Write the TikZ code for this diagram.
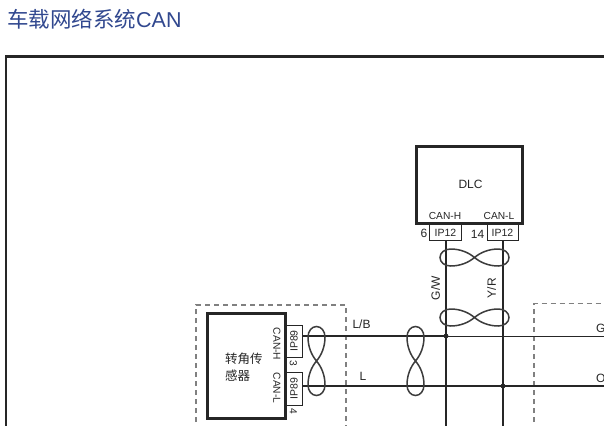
\documentclass[tikz,border=0pt]{standalone}
\usepackage{fontspec}
\setmainfont{Liberation Sans}
\newfontfamily\cjkf{Noto Sans CJK SC}
\definecolor{ink}{HTML}{262626}
\definecolor{titleblue}{HTML}{31488F}
\definecolor{dashgray}{HTML}{808080}
\tikzset{
  lbl/.style={font=\fontsize{12}{14}\selectfont,text=ink,inner sep=0pt},
  small/.style={font=\fontsize{10.2}{11}\selectfont,text=ink,inner sep=0pt},
  heavybox/.style={draw=ink,line width=3pt,fill=white,inner sep=0pt},
  conn/.style={draw=ink,line width=0.9pt,fill=white,inner sep=0pt,font=\fontsize{10.5}{11}\selectfont,text=ink},
  wire/.style={draw=ink,line width=1.7pt},
  thinwire/.style={draw=ink,line width=1pt},
  dashedbox/.style={draw=dashgray,line width=1.1pt,dash pattern=on 5pt off 4pt},
  pics/twist/.style={code={
    \draw[draw=ink!90,line width=1.5pt]
      (0,0) .. controls (-6,-5) and (-14,-8.5) .. (-24,-8.5)
      .. controls (-30,-8.5) and (-34.5,-4.7) .. (-34.5,0)
      .. controls (-34.5,4.7) and (-30,8.5) .. (-24,8.5)
      .. controls (-14,8.5) and (-6,5) .. (0,0)
      .. controls (6,-5) and (14,-8.5) .. (24,-8.5)
      .. controls (30,-8.5) and (34.5,-4.7) .. (34.5,0)
      .. controls (34.5,4.7) and (30,8.5) .. (24,8.5)
      .. controls (14,8.5) and (6,5) .. (0,0) -- cycle;
  }}
}
\begin{document}
\begin{tikzpicture}[x=1pt,y=-1pt]
\useasboundingbox (0,0) rectangle (604,425);
\fill[white] (0,0) rectangle (604,425);
\clip (0,0) rectangle (604,425);
% title
\node[anchor=west,inner sep=0pt,text=titleblue] (title) at (7,19)
  {\fontsize{21.5}{24}\selectfont{\cjkf 车载网络系统}CAN};
% frame
\draw[draw=ink,line width=2.2pt] (6,440) -- (6,56.5) -- (620,56.5);
% dashed groups
\draw[dashedbox] (196,440) -- (196,305) -- (346,305) -- (346,440);
\draw[dashedbox] (534,440) -- (534,303.5) -- (620,303.5);
% wire end points
\coordinate (bL) at (446,440);
\coordinate (bR) at (503,440);
\coordinate (e1) at (620,336);
\coordinate (e2) at (620,386);
\coordinate (j1) at (446,336);
\coordinate (j2) at (503,386);
% DLC
\node[heavybox,minimum width=106pt,minimum height=77pt] (dlc) at (469,184.5) {};
\node[lbl] (dlct) at (470.5,184) {DLC};
\node[small] (canh1) at (445,216) {CAN-H};
\node[small] (canl1) at (499,216) {CAN-L};
\node[conn,minimum width=32pt,minimum height=15.5pt] (ip1) at (445.5,232.5) {IP12};
\node[conn,minimum width=31pt,minimum height=15.5pt] (ip2) at (502.5,232.5) {IP12};
\node[lbl] (n6) at (424,233) {6};
\node[lbl] (n14) at (477.5,234) {14};
% sensor
\node[heavybox,minimum width=78pt,minimum height=105pt] (sens) at (246,365.5) {};
\node[lbl,align=left,anchor=west,font=\fontsize{12.5}{17}\selectfont\cjkf] (senst) at (225,367) {转角传\\感器};
\node[conn,minimum width=16pt,minimum height=32pt] (ip3) at (294,341) {};
\node[conn,minimum width=16pt,minimum height=33pt] (ip4) at (294,388.5) {};
\node[small,rotate=90,font=\fontsize{10.5}{11}\selectfont] (ip3t) at (294,341) {IP89};
\node[small,rotate=90,font=\fontsize{10.5}{11}\selectfont] (ip4t) at (294,388.5) {IP89};
\node[small,rotate=-90] (canh2) at (277,344) {CAN-H};
\node[small,rotate=-90] (canl2) at (277,388) {CAN-L};
\node[small,rotate=-90] (n3) at (293.5,363) {3};
\node[small,rotate=-90] (n4) at (293.5,411.5) {4};
% wires
\draw[wire] (ip1.south -| bL) -- (bL);
\draw[wire] (ip2.south -| bR) -- (bR);
\draw[wire] (ip3.east |- j1) -- (j1);
\draw[thinwire] (j1) -- (e1);
\draw[wire] (ip4.east |- j2) -- (e2);
\fill[ink] (j1) circle (2.4pt) (j2) circle (2.4pt);
% twists
\pic at (474.5,257.5) {twist};
\pic at (474.5,317.5) {twist};
\pic[rotate=90] at (316.5,361) {twist};
\pic[rotate=90] at (415.5,361) {twist};
% labels
\node[lbl] (lb) at (361.5,324.5) {L/B};
\node[lbl] (l) at (363,376) {L};
\node[lbl,anchor=west] (g) at (596,328) {G};
\node[lbl,anchor=west] (o) at (596,378) {O};
\node[lbl,rotate=90] (gw) at (435.5,288) {G/W};
\node[lbl,rotate=90] (yr) at (491.5,288) {Y/R};
\end{tikzpicture}
\end{document}
